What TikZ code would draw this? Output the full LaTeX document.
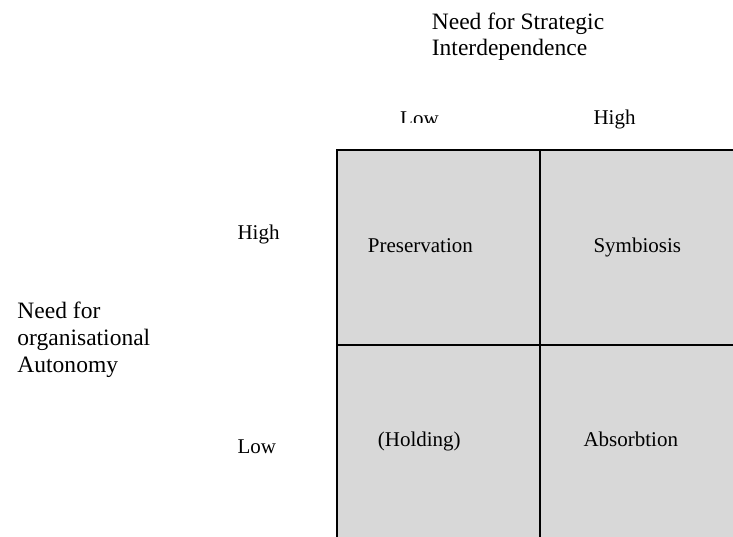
\documentclass[tikz,border=0pt]{standalone}
\usepackage{fontspec}
\setmainfont{Liberation Serif}
\definecolor{cellgray}{RGB}{216,216,216}
\begin{document}
\begin{tikzpicture}[x=1bp,y=-1bp,
  title/.style={font=\fontsize{23.5bp}{26.8bp}\selectfont, inner sep=0pt, align=left, anchor=base west},
  lbl/.style={font=\fontsize{21bp}{24bp}\selectfont, inner sep=0pt, anchor=base west},
  cell/.style={draw=black, fill=cellgray, line width=2bp, inner sep=0pt, outer sep=0pt, anchor=north west}]
\useasboundingbox (0,0) rectangle (733,537);
\clip (0,0) rectangle (733,537);
\fill[white] (0,0) rectangle (733,537);

% the four quadrants of the matrix (right and bottom run off the page)
\node[cell, minimum width=203.5bp, minimum height=194bp] (preservation) at (336.5,150.5) {};
\node[cell, minimum width=210bp, minimum height=194bp] (symbiosis) at (540,150.5) {};
\node[cell, minimum width=203.5bp, minimum height=210bp] (holding) at (336.5,344.5) {};
\node[cell, minimum width=210bp, minimum height=210bp] (absorbtion) at (540,344.5) {};

% quadrant names
\node[lbl] (tPres) at (367.7,252.3) {Preservation};
\node[lbl] (tSymb) at (593.3,252.3) {Symbiosis};
\node[lbl] (tHold) at (377.7,446) {(Holding)};
\node[lbl] (tAbs) at (583.3,446) {Absorbtion};

% axis titles (anchored on the baseline of their last line)
\node[title] (interdep) at (431.7,56) {Need for Strategic\\Interdependence};
\node[title] (autonomy) at (17.3,372) {Need for\\organisational\\Autonomy};

% axis levels
\node[lbl] (rowHigh) at (237.3,240) {High};
\node[lbl] (rowLow) at (237.3,453.3) {Low};
\node[lbl] (colHigh) at (593.3,125) {High};
\begin{scope}
  \clip (380,95) rectangle (460,122.8);
  \node[lbl] (colLow) at (400,125.5) {Low};
\end{scope}
\end{tikzpicture}
\end{document}
